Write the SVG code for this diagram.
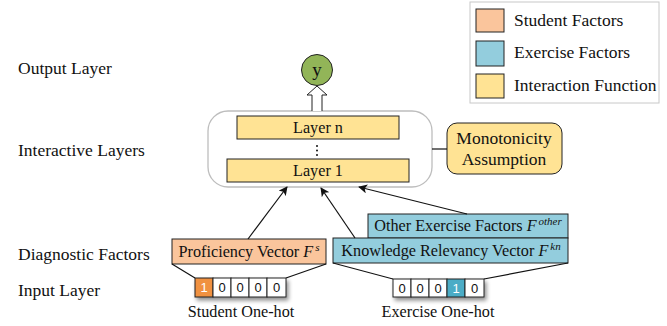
<svg xmlns="http://www.w3.org/2000/svg" width="667" height="326" viewBox="0 0 667 326">
<style>
.t{font-family:"Liberation Serif","Times New Roman",serif;fill:#111}
.lab{font-size:17.5px}
.box{font-size:16.2px}
.sup{font-size:11px;font-style:italic}
.it{font-style:italic}
.dg{font-family:"Liberation Sans",Arial,sans-serif;font-size:13px;text-anchor:middle;fill:#111}
.dw{fill:#fff}
.ln{stroke:#111;stroke-width:1.2;fill:none}
.org{fill:#fac59c;stroke:#222;stroke-width:1}
.blu{fill:#93cddd;stroke:#222;stroke-width:1}
.yel{fill:#ffe394;stroke:#222;stroke-width:1}
.cell{fill:#fff;stroke:#222;stroke-width:1}
</style>
<defs>
<marker id="ah" viewBox="0 0 10 10" refX="9" refY="5" markerWidth="9" markerHeight="9" markerUnits="userSpaceOnUse" orient="auto">
<path d="M0,0 L10,5 L0,10 L2.5,5 z" fill="#111"/>
</marker>
<filter id="sh" x="-20%" y="-40%" width="140%" height="200%">
<feGaussianBlur in="SourceAlpha" stdDeviation="2"/>
<feOffset dx="2" dy="3" result="b"/>
<feComponentTransfer><feFuncA type="linear" slope="0.45"/></feComponentTransfer>
<feMerge><feMergeNode/><feMergeNode in="SourceGraphic"/></feMerge>
</filter>
</defs>

<g id="legend">
<rect x="470" y="2" width="189" height="101" fill="#fff" stroke="#c8c8c8" stroke-width="1"/>
<rect x="476" y="9" width="28" height="23" class="org"/>
<rect x="476" y="41" width="28" height="25" class="blu"/>
<rect x="476" y="74" width="28" height="24" class="yel"/>
<text x="514" y="26" class="t lab">Student Factors</text>
<text x="514" y="58" class="t lab">Exercise Factors</text>
<text x="514" y="91" class="t lab">Interaction Function</text>
</g>

<g id="row-labels">
<text x="18" y="74" class="t lab">Output Layer</text>
<text x="18" y="156" class="t lab">Interactive Layers</text>
<text x="18" y="260" class="t lab">Diagnostic Factors</text>
<text x="18" y="296" class="t lab">Input Layer</text>
</g>

<g id="output">
<circle cx="317" cy="70" r="15.5" fill="#92b558" stroke="#222" stroke-width="1"/>
<text x="317" y="76" class="t lab" text-anchor="middle" style="font-size:19px">y</text>
</g>

<g id="interactive">
<rect x="208" y="111" width="224" height="76" rx="20" fill="#fff" stroke="#bdbdbd" stroke-width="1.3"/>
<rect x="237" y="116" width="162" height="23" class="yel"/>
<text x="318" y="133" class="t box" text-anchor="middle">Layer n</text>
<circle cx="317" cy="146" r="1" fill="#111"/>
<circle cx="317" cy="150.5" r="1" fill="#111"/>
<circle cx="317" cy="155" r="1" fill="#111"/>
<rect x="227" y="159" width="182" height="23" class="yel"/>
<text x="318" y="176" class="t box" text-anchor="middle">Layer 1</text>
</g>

<g id="monotonicity">
<rect x="447" y="123" width="115" height="51" rx="10" class="yel"/>
<text x="504" y="144" class="t lab" text-anchor="middle">Monotonicity</text>
<text x="504" y="165" class="t lab" text-anchor="middle">Assumption</text>
</g>

<g id="proficiency">
<rect x="172" y="239" width="154" height="25" class="org"/>
<text x="249" y="257" class="t box" text-anchor="middle">Proficiency Vector <tspan class="it">F</tspan><tspan class="sup" dx="2" dy="-6">s</tspan></text>
</g>

<g id="other-exercise">
<rect x="368" y="214" width="200" height="24" class="blu"/>
<text x="468" y="231" class="t box" text-anchor="middle">Other Exercise Factors <tspan class="it">F</tspan><tspan class="sup" dx="2" dy="-6">other</tspan></text>
</g>

<g id="knowledge">
<rect x="333" y="238" width="235" height="25" class="blu"/>
<text x="451" y="256" class="t box" text-anchor="middle">Knowledge Relevancy Vector <tspan class="it">F</tspan><tspan class="sup" dx="2" dy="-6">kn</tspan></text>
</g>

<g id="student-onehot">
<g filter="url(#sh)">
<rect x="195" y="278" width="18" height="19" fill="#f0913f" stroke="#222" stroke-width="1"/>
<rect x="213" y="278" width="18" height="19" class="cell"/>
<rect x="231" y="278" width="18" height="19" class="cell"/>
<rect x="249" y="278" width="18" height="19" class="cell"/>
<rect x="267" y="278" width="19" height="19" class="cell"/>
</g>
<text x="204" y="292" class="dg dw">1</text>
<text x="222" y="292" class="dg">0</text>
<text x="240" y="292" class="dg">0</text>
<text x="258" y="292" class="dg">0</text>
<text x="276.5" y="292" class="dg">0</text>
<text x="241" y="317" class="t box" text-anchor="middle">Student One-hot</text>
</g>

<g id="exercise-onehot">
<g filter="url(#sh)">
<rect x="393" y="279" width="18" height="18" class="cell"/>
<rect x="411" y="279" width="18" height="18" class="cell"/>
<rect x="429" y="279" width="18" height="18" class="cell"/>
<rect x="447" y="279" width="18" height="18" fill="#4bacc6" stroke="#222" stroke-width="1"/>
<rect x="465" y="279" width="19" height="18" class="cell"/>
</g>
<text x="402" y="293" class="dg">0</text>
<text x="420" y="293" class="dg">0</text>
<text x="438" y="293" class="dg">0</text>
<text x="456" y="293" class="dg dw">1</text>
<text x="474.5" y="293" class="dg">0</text>
<text x="438" y="317" class="t box" text-anchor="middle">Exercise One-hot</text>
</g>

<g id="connectors">
<path d="M312,111 V95 H307 L317,86 L327,95 H322 V111" fill="#fff" stroke="#222" stroke-width="1"/>
<line x1="432" y1="149" x2="447" y2="149" class="ln"/>
<line x1="248" y1="239" x2="287" y2="187" class="ln" marker-end="url(#ah)"/>
<line x1="355" y1="238" x2="321" y2="188" class="ln" marker-end="url(#ah)"/>
<line x1="467" y1="214" x2="359" y2="187" class="ln" marker-end="url(#ah)"/>
<line x1="172" y1="264" x2="195" y2="278" class="ln"/>
<line x1="326" y1="264" x2="286" y2="278" class="ln"/>
<line x1="333" y1="263" x2="393" y2="279" class="ln"/>
<line x1="568" y1="263" x2="484" y2="279" class="ln"/>
</g>
</svg>
